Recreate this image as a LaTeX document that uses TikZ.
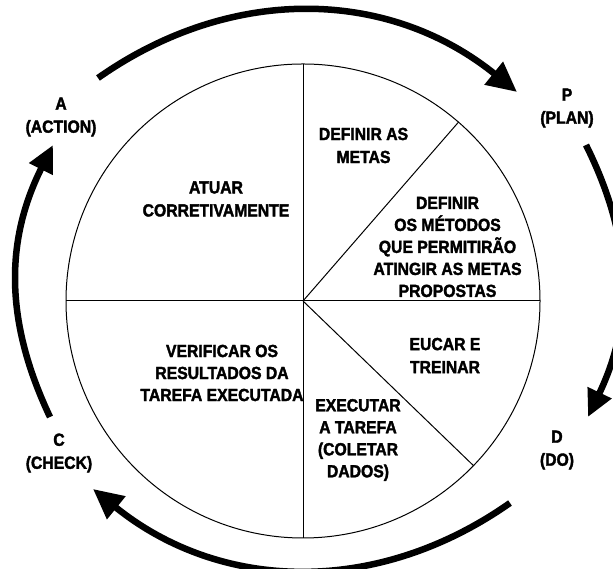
\documentclass[tikz,border=0pt]{standalone}
\usepackage{fontspec}
\setmainfont{Liberation Sans}
\newfontfamily\heavyfont{Liberation Sans Bold}[FakeBold=2,FakeStretch=0.9]
\usetikzlibrary{arrows.meta}
\begin{document}
\begin{tikzpicture}[x=1pt,y=1pt,
  lbl/.style={font=\heavyfont\fontsize{17.5}{23}\selectfont, align=center, inner sep=0pt},
  lbltight/.style={font=\heavyfont\fontsize{17.5}{22}\selectfont, align=center, inner sep=0pt},
  cyc/.style={line width=6.5pt, -{Triangle[length=30pt,width=28pt]}},
  cycs/.style={line width=6.5pt, -{Triangle[length=27pt,width=25pt]}},
  thinline/.style={line width=1pt}]
\useasboundingbox (0,0) rectangle (613,569);
\fill[white] (0,0) rectangle (613,569);
\clip (0,0) rectangle (613,569);
% circle and sectors
\coordinate (O) at (303,268);
\coordinate (W) at ([shift={(O)}]180:237);
\coordinate (E) at ([shift={(O)}]0:237);
\coordinate (N) at ([shift={(O)}]90:237);
\coordinate (S) at ([shift={(O)}]270:237);
\coordinate (NE) at ([shift={(O)}]49:237);
\coordinate (SE) at ([shift={(O)}]-44:237);
\draw[thinline] (O) circle[radius=237];
\draw[thinline] (W) -- (E);
\draw[thinline] (N) -- (S);
\draw[thinline] (O) -- (NE);
\draw[thinline] (O) -- (SE);
% cycle labels
\node[lbl] (act) at (61,452) {A\\(ACTION)};
\node[lbl] (plan) at (567,461) {P\\(PLAN)};
\node[lbl] (do) at (557,119) {D\\(DO)};
\node[lbl] (chk) at (59,116) {C\\(CHECK)};
% sector texts
\node[lbl] (atuar) at (216,370) {ATUAR\\CORRETIVAMENTE};
\node[lbl] (metas) at (363.5,423.5) {DEFINIR AS\\METAS};
\node[lbltight] (metodos) at (447.5,322) {DEFINIR\\OS MÉTODOS\\QUE PERMITIRÃO\\ATINGIR AS METAS\\PROPOSTAS};
\node[lbl] (educar) at (445,213.5) {EUCAR E\\TREINAR};
\node[lbltight] (exec) at (358,129) {EXECUTAR\\A TAREFA\\(COLETAR\\DADOS)};
\node[lbltight] (verif) at (222,196) {VERIFICAR OS\\RESULTADOS DA\\TAREFA EXECUTADA};
% cycle arrows
\coordinate (tS) at (98,491);
\coordinate (tE) at (517,477);
\coordinate (rS) at (586,424);
\coordinate (rE) at (588,152);
\coordinate (bS) at (510,66);
\coordinate (bE) at (93,80);
\coordinate (lS) at (50,152);
\coordinate (lE) at (53,424);
\draw[cyc] (tS) to[bend left=37] (tE);
\draw[cycs] (rS) to[bend left=26] (rE);
\draw[cyc] (bS) to[bend left=37] (bE);
\draw[cycs] (lS) to[bend left=26] (lE);
\end{tikzpicture}
\end{document}
